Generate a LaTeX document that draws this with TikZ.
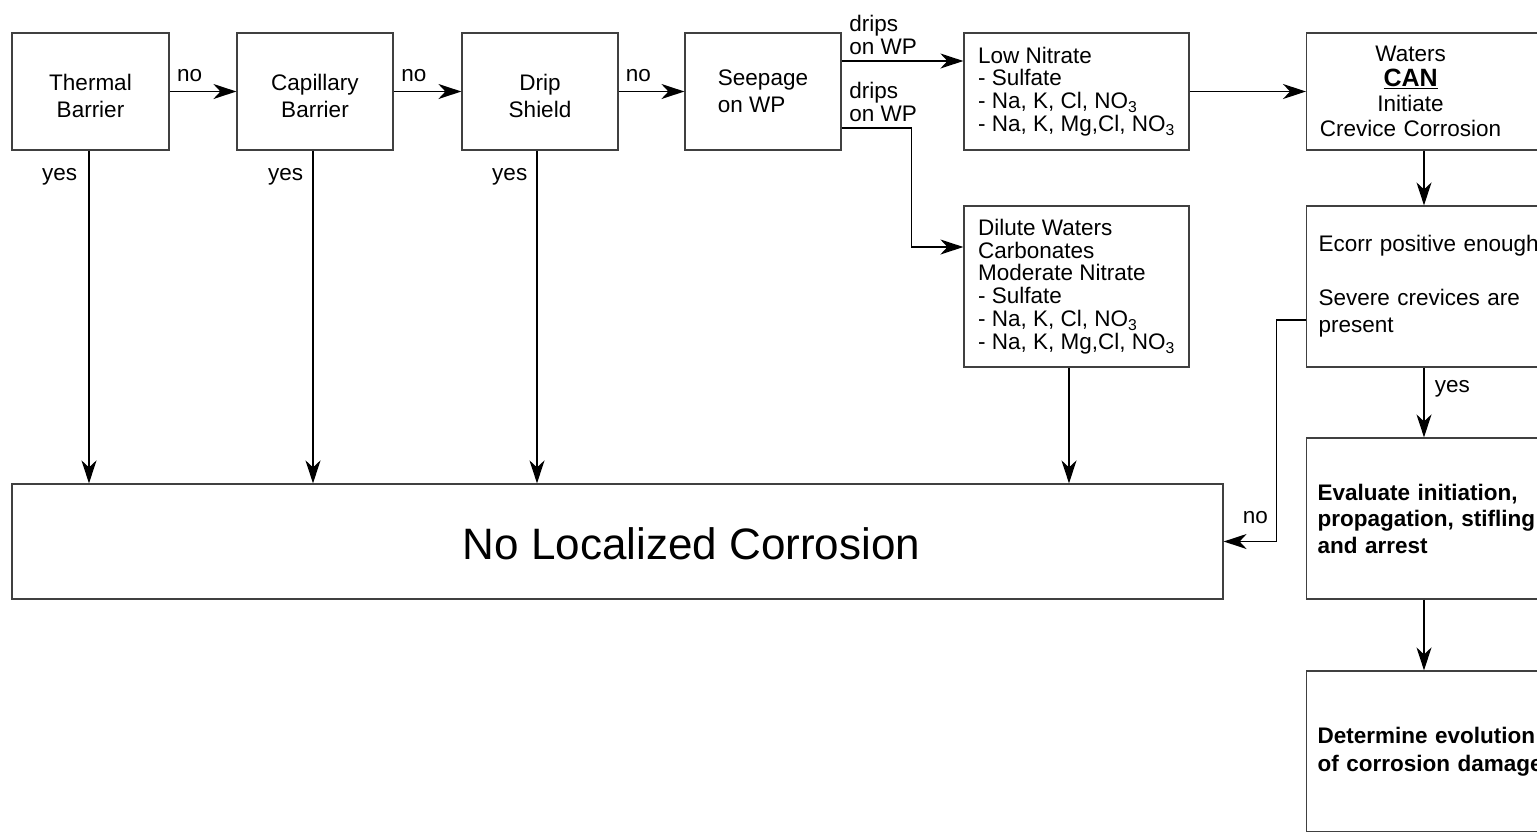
\documentclass[tikz,border=0pt]{standalone}
\usepackage{fontspec}
\setmainfont{Liberation Sans}
\usetikzlibrary{arrows.meta, positioning}

\newcommand{\fsz}[1]{\fontsize{22.5}{#1}\selectfont}

\tikzset{
  box/.style={draw=black!75, line width=1.2pt, inner sep=0pt, font=\fsz{27}},
  link/.style={line width=1.5pt, -{Stealth[length=23pt,width=15pt,inset=7pt]}},
  lbl/.style={font=\fsz{23}, inner sep=0pt}
}

\begin{document}
\begin{tikzpicture}[x=1pt,y=-1pt]
\useasboundingbox (0,0) rectangle (1537,831);
\clip (0,0) rectangle (1537,831);

% Top row of barriers and the water chemistry boxes.
\node[box, minimum width=157, minimum height=117, align=center, text height=53pt] (thermal) at (90.5,91.5) {Thermal\\Barrier};
\node[box, minimum width=156, minimum height=117, align=center, text height=53pt] (capillary) at (315,91.5) {Capillary\\Barrier};
\node[box, minimum width=156, minimum height=117, align=center, text height=53pt] (dripshield) at (540,91.5) {Drip\\Shield};
\node[box, minimum width=156, minimum height=117, align=left] (seepage) at (763,91.5) {Seepage\\on WP};
\node[box, minimum width=225, minimum height=117, align=left, font=\fsz{22.7}] (lownitrate) at (1076.5,91.5)
  {Low Nitrate\\- Sulfate\\- Na, K, Cl, NO\textsubscript{3}\\- Na, K, Mg,Cl, NO\textsubscript{3}};
\node[box, minimum width=225, minimum height=161, align=left, font=\fsz{22.8}] (dilute) at (1076.5,286.5)
  {Dilute Waters\\Carbonates\\Moderate Nitrate\\- Sulfate\\- Na, K, Cl, NO\textsubscript{3}\\- Na, K, Mg,Cl, NO\textsubscript{3}};

% Right column, cut off by the page edge.
\node[box, anchor=west, minimum height=117, text width=240, align=left] (waters) at (1306,91.5)
  {\parbox{208pt}{\centering\fsz{25}Waters\\{\fontsize{25}{25}\selectfont\underline{\textbf{CAN}}}\\Initiate\\Crevice Corrosion}};
\node[box, anchor=west, minimum height=161, text width=240, inner xsep=12, align=left] (ecorr) at (1306,286.5)
  {Ecorr positive enough\\[27pt]Severe crevices are\\present};
\node[box, anchor=west, minimum height=161, text width=240, inner xsep=11, align=left, font=\fsz{26.5}\bfseries] (evaluate) at (1306,518.5)
  {Evaluate initiation,\\propagation, stifling\\and arrest};
\node[box, anchor=west, minimum height=161, text width=240, inner xsep=11, align=left, font=\fsz{28}\bfseries] (evolution) at (1306,751.5)
  {Determine evolution\\of corrosion damage};

% Outcome box.
\node[box, minimum width=1211, minimum height=115,
  label={[font=\fontsize{44}{50}\selectfont, xshift=74pt, yshift=-2.5pt]center:No Localized Corrosion}] (nolc) at (617.5,541.5) {};

% "no" chain along the top.
\draw[link] (thermal) -- node[lbl, pos=0.3, above=9pt] {no} (capillary);
\draw[link] (capillary) -- node[lbl, pos=0.3, above=9pt] {no} (dripshield);
\draw[link] (dripshield) -- node[lbl, pos=0.3, above=9pt] {no} (seepage);

% Drips on the waste package.
\coordinate (d1) at ([yshift=30.5pt]seepage.east);
\coordinate (d2) at ([yshift=-36.5pt]seepage.east);
\coordinate (d3) at ([yshift=39.5pt]dilute.west);
\draw[link] (d1) -- node[lbl, pos=0, anchor=south west, xshift=7pt, yshift=6pt, align=left] {drips\\on WP} (d1 -| lownitrate.west);
\draw[link] (d2) -| node[lbl, pos=0, anchor=south west, xshift=7pt, yshift=6pt, align=left] {drips\\on WP} ([xshift=-52pt]d3) -- (d3);
\draw[link] (lownitrate.east) -- (lownitrate.east -| waters.west);

% "yes" drops into the outcome box.
\draw[link] ([xshift=-1.5pt]thermal.south) -- node[lbl, pos=0.08, left=11pt] {yes} ([xshift=-1.5pt]thermal.south |- nolc.north);
\draw[link] ([xshift=-2pt]capillary.south) -- node[lbl, pos=0.08, left=9pt] {yes} ([xshift=-2pt]capillary.south |- nolc.north);
\draw[link] ([xshift=-3pt]dripshield.south) -- node[lbl, pos=0.08, left=9pt] {yes} ([xshift=-3pt]dripshield.south |- nolc.north);
\draw[link] ([xshift=-7.5pt]dilute.south) -- ([xshift=-7.5pt]dilute.south |- nolc.north);

% Crevice corrosion path.
\draw[link] ([xshift=118pt]waters.south west) -- ([xshift=118pt]ecorr.north west);
\draw[link] ([xshift=118pt]ecorr.south west) -- node[lbl, pos=0.3, right=10pt] {yes} ([xshift=118pt]evaluate.north west);
\draw[link] ([xshift=118pt]evaluate.south west) -- ([xshift=118pt]evolution.north west);
\draw[link] ([yshift=-33.5pt]ecorr.west) -| ([xshift=53pt]nolc.east) -- node[lbl, pos=0.4, above=17pt] {no} (nolc.east);
\end{tikzpicture}
\end{document}
